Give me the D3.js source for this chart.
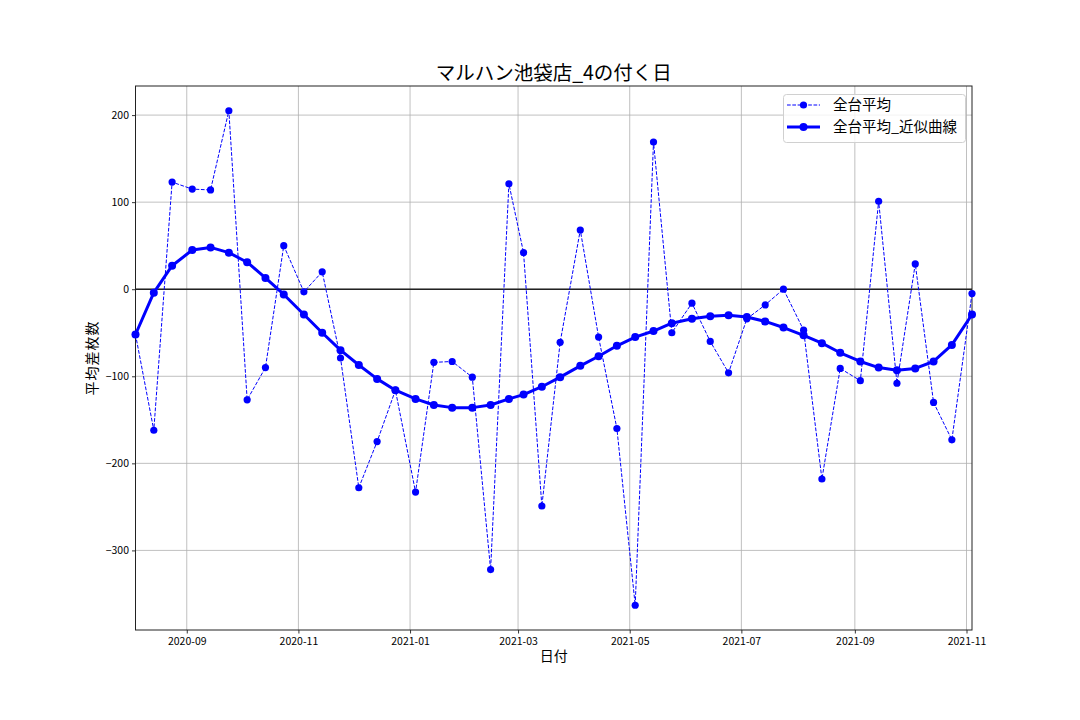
<!DOCTYPE html>
<html><head><meta charset="utf-8">
<script src="https://cdn.jsdelivr.net/npm/d3@7"></script>
<style>body{margin:0;background:#fff;} svg{display:block;} text{font-family:"Noto Sans CJK JP","Noto Sans",sans-serif;}</style>
</head><body>
<svg id="c" width="1080" height="720"></svg>
<script>
const dates = ["2020-08-04","2020-08-14","2020-08-24","2020-09-04","2020-09-14","2020-09-24","2020-10-04","2020-10-14","2020-10-24","2020-11-04","2020-11-14","2020-11-24","2020-12-04","2020-12-14","2020-12-24","2021-01-04","2021-01-14","2021-01-24","2021-02-04","2021-02-14","2021-02-24","2021-03-04","2021-03-14","2021-03-24","2021-04-04","2021-04-14","2021-04-24","2021-05-04","2021-05-14","2021-05-24","2021-06-04","2021-06-14","2021-06-24","2021-07-04","2021-07-14","2021-07-24","2021-08-04","2021-08-14","2021-08-24","2021-09-04","2021-09-14","2021-09-24","2021-10-04","2021-10-14","2021-10-24","2021-11-04"];
const rawAvg = [-52,-162,123,115,114,205,-127,-90,50,-3,20,-79,-228,-175,-116,-233,-84,-83,-101,-322,121,42,-249,-61,68,-55,-160,-363,169,-50,-16,-60,-96,-34,-18,0,-47,-218,-91,-105,101,-108,29,-130,-173,-5];
const fitAvg = [-52,-4,27,45,48,42,31,13,-6,-29,-50,-70,-87,-103,-116,-126,-133,-136,-136,-133,-126,-121,-112,-101,-88,-77,-65,-55,-48,-39,-34,-31,-30,-32,-37,-44,-53,-62,-73,-83,-90,-93,-91,-83,-64,-29];
const yTicks = [-300,-200,-100,0,100,200];
const xTickLabels = ["2020-09","2020-11","2021-01","2021-03","2021-05","2021-07","2021-09","2021-11"];
const titleText = "マルハン池袋店_4の付く日";
const seriesNames = ["全台平均","全台平均_近似曲線"];

const parse = d3.timeParse("%Y-%m-%d");
const X = dates.map(parse);
const svg = d3.select("#c");
const L=135.5, R=972, T=86, B=630;
const x = d3.scaleTime().domain([X[0], X[X.length-1]]).range([L,R]);
const y = d3.scaleLinear().domain([-391.4, 233.4]).range([B,T]);
const tickDates = xTickLabels.map(s=>parse(s+"-01"));

// grid
const g = svg.append("g");
g.selectAll(".gx").data(tickDates).join("line")
  .attr("x1",d=>x(d)).attr("x2",d=>x(d)).attr("y1",T).attr("y2",B)
  .attr("stroke","#b0b0b0").attr("stroke-width",0.8);
g.selectAll(".gy").data(yTicks).join("line")
  .attr("x1",L).attr("x2",R).attr("y1",d=>y(d)).attr("y2",d=>y(d))
  .attr("stroke","#b0b0b0").attr("stroke-width",0.8);

// zero line
svg.append("line").attr("x1",L).attr("x2",R).attr("y1",y(0)).attr("y2",y(0))
  .attr("stroke","#222").attr("stroke-width",1.5);

// axes
const xa = svg.append("g").attr("transform",`translate(0,${B})`)
  .call(d3.axisBottom(x).tickValues(tickDates).tickFormat(d3.timeFormat("%Y-%m")).tickSizeInner(3.5).tickSizeOuter(0));
const ya = svg.append("g").attr("transform",`translate(${L},0)`)
  .call(d3.axisLeft(y).tickValues(yTicks).tickFormat(d=>d<0?"\u2212"+Math.abs(d):d).tickSizeInner(3.5).tickSizeOuter(0));
[xa,ya].forEach(a=>{a.select(".domain").remove();a.selectAll("text").attr("font-size",10.5).attr("fill","#000").style("font-family","'Noto Sans CJK JP',sans-serif");a.selectAll("line").attr("stroke","#000").attr("stroke-width",0.8);});
xa.selectAll("text").attr("dy","0.85em");

// frame
svg.append("rect").attr("x",L).attr("y",T).attr("width",R-L).attr("height",B-T)
  .attr("fill","none").attr("stroke","#222").attr("stroke-width",1);

const pg = svg.append("g");
const line = d3.line().x((d,i)=>x(X[i])).y(d=>y(d));
pg.append("path").datum(rawAvg).attr("d",line).attr("fill","none")
  .attr("stroke","#0000ff").attr("stroke-width",1).attr("stroke-dasharray","3.7,1.6");
pg.selectAll(".rp").data(rawAvg).join("circle")
  .attr("cx",(d,i)=>x(X[i])).attr("cy",d=>y(d)).attr("r",3.6).attr("fill","#0000ff");
pg.append("path").datum(fitAvg).attr("d",line).attr("fill","none")
  .attr("stroke","#0000ff").attr("stroke-width",3).attr("stroke-linejoin","round");
pg.selectAll(".fp").data(fitAvg).join("circle")
  .attr("cx",(d,i)=>x(X[i])).attr("cy",d=>y(d)).attr("r",4).attr("fill","#0000ff");

// title & labels
svg.append("text").attr("x",(L+R)/2).attr("y",80).attr("text-anchor","middle")
  .attr("font-size",19.5).text(titleText);
svg.append("text").attr("x",(L+R)/2).attr("y",661).attr("text-anchor","middle")
  .attr("font-size",14).text("日付");
svg.append("text").attr("transform",`translate(97,${(T+B)/2}) rotate(-90)`).attr("text-anchor","middle")
  .attr("font-size",14).attr("letter-spacing",1).text("平均差枚数");

// legend
const lg = svg.append("g");
lg.append("rect").attr("x",783.5).attr("y",94.5).attr("width",182).attr("height",48).attr("rx",3)
  .attr("fill","#fff").attr("fill-opacity",0.8).attr("stroke","#d0d0d0").attr("stroke-width",1);
const rows=[105,127];
lg.append("line").attr("x1",787).attr("x2",820).attr("y1",rows[0]).attr("y2",rows[0])
  .attr("stroke","#0000ff").attr("stroke-width",1).attr("stroke-dasharray","3.7,1.6");
lg.append("circle").attr("cx",803.5).attr("cy",rows[0]).attr("r",3.6).attr("fill","#0000ff");
lg.append("line").attr("x1",787).attr("x2",820).attr("y1",rows[1]).attr("y2",rows[1])
  .attr("stroke","#0000ff").attr("stroke-width",3);
lg.append("circle").attr("cx",803.5).attr("cy",rows[1]).attr("r",4).attr("fill","#0000ff");
seriesNames.forEach((n,i)=>{
  lg.append("text").attr("x",833).attr("y",rows[i]).attr("dy","0.36em").attr("font-size",14.5).text(n);
});
</script>
</body></html>
